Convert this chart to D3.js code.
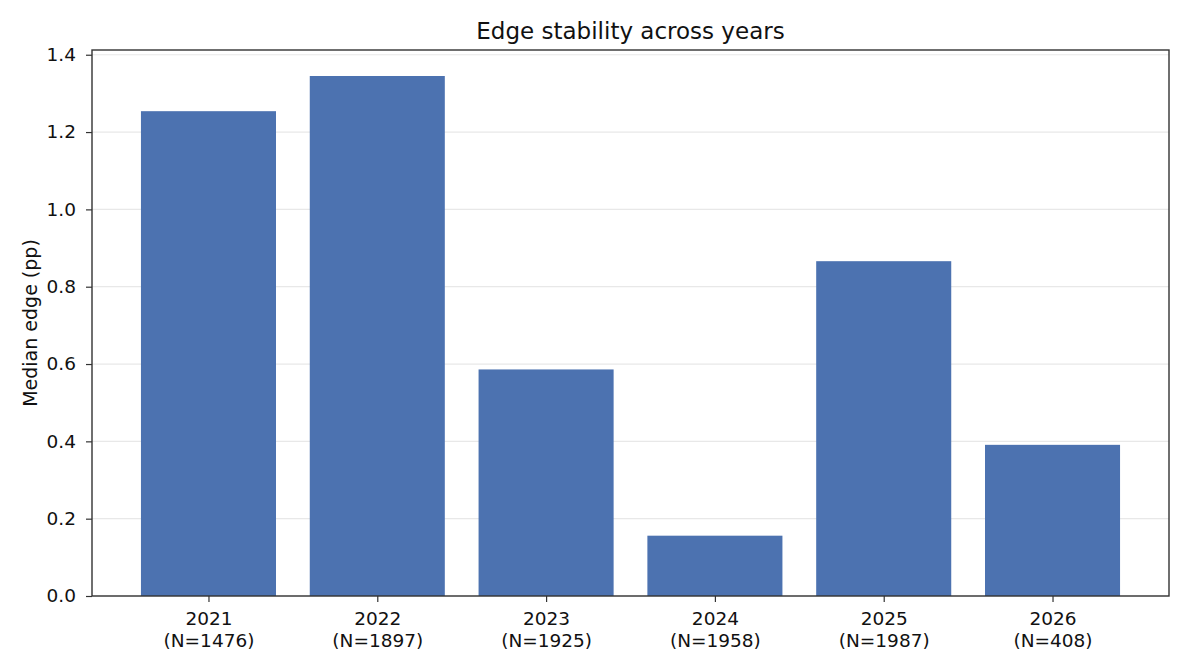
<!DOCTYPE html>
<html>
<head>
<meta charset="utf-8">
<script src="https://cdn.jsdelivr.net/npm/d3@7"></script>
<style>
  body { margin: 0; background: #fff; }
  svg { font-family: "DejaVu Sans", sans-serif; }
</style>
</head>
<body>
<div id="chart"></div>
<script>
const years = ["2021", "2022", "2023", "2024", "2025", "2026"]
const counts = [1476, 1897, 1925, 1958, 1987, 408]
const medianEdge = [1.254, 1.345, 0.586, 0.156, 0.866, 0.391]
const yTicks = [0, 0.2, 0.4, 0.6, 0.8, 1.0, 1.2, 1.4]

const width = 1190
const height = 672
const margin = { top: 50, right: 21, bottom: 76, left: 92 } // plot frame edges

const x0 = margin.left, x1 = width - margin.right
const y0 = height - margin.bottom, y1 = margin.top

// matplotlib-like: bar width 0.8, 5% margins
const n = years.length
const pad = 0.05 * (n - 1 + 0.8)
const x = d3.scaleLinear()
  .domain([-0.4 - pad, n - 1 + 0.4 + pad])
  .range([x0, x1])
const y = d3.scaleLinear()
  .domain([0, d3.max(medianEdge) * 1.05])
  .range([y0, y1])

const svg = d3.select("#chart").append("svg")
  .attr("width", width)
  .attr("height", height)
  .attr("viewBox", [0, 0, width, height])

// grid
svg.append("g")
  .selectAll("line")
  .data(yTicks)
  .join("line")
  .attr("x1", x0).attr("x2", x1)
  .attr("y1", d => y(d)).attr("y2", d => y(d))
  .attr("stroke", "#e8e8e8")
  .attr("stroke-width", 1.2)

// bars
svg.append("g")
  .attr("fill", "#4c72b0")
  .selectAll("rect")
  .data(medianEdge)
  .join("rect")
  .attr("x", (d, i) => x(i - 0.4))
  .attr("width", (d, i) => x(i + 0.4) - x(i - 0.4))
  .attr("y", d => y(d))
  .attr("height", d => y(0) - y(d))

// y axis
const yAxis = d3.axisLeft(y).tickValues(yTicks).tickFormat(d3.format(".1f")).tickSize(6).tickSizeOuter(0).tickPadding(10)
svg.append("g")
  .attr("transform", `translate(${x0},0)`)
  .call(yAxis)
  .call(g => g.select(".domain").remove())
  .call(g => g.selectAll(".tick line").attr("stroke", "#333").attr("stroke-width", 1.2))
  .call(g => g.selectAll(".tick text").attr("fill", "#111").style("font-size", "18.5px").style("font-family", "DejaVu Sans"))

// x axis
const xAxis = d3.axisBottom(x).tickValues(d3.range(n)).tickFormat("").tickSize(6).tickSizeOuter(0)
const gx = svg.append("g")
  .attr("transform", `translate(0,${y0})`)
  .call(xAxis)
  .call(g => g.select(".domain").remove())
  .call(g => g.selectAll(".tick line").attr("stroke", "#333").attr("stroke-width", 1.2))
gx.selectAll(".tick")
  .append("text")
  .attr("fill", "#111")
  .attr("text-anchor", "middle")
  .style("font-size", "18.5px")
  .style("font-family", "DejaVu Sans")
  .each(function (d, i) {
    const t = d3.select(this)
    t.append("tspan").attr("x", 0).attr("y", 29).text(years[i])
    t.append("tspan").attr("x", 0).attr("y", 51).text(`(N=${counts[i]})`)
  })

// frame
svg.append("rect")
  .attr("x", x0).attr("y", y1)
  .attr("width", x1 - x0).attr("height", y0 - y1)
  .attr("fill", "none")
  .attr("stroke", "#333")
  .attr("stroke-width", 1.4)

// title
svg.append("text")
  .attr("x", (x0 + x1) / 2)
  .attr("y", 38.5)
  .attr("text-anchor", "middle")
  .attr("fill", "#111")
  .style("font-size", "23px")
  .text("Edge stability across years")

// y label
svg.append("text")
  .attr("transform", `translate(36.5,${(y0 + y1) / 2}) rotate(-90)`)
  .attr("text-anchor", "middle")
  .attr("fill", "#111")
  .style("font-size", "19px")
  .text("Median edge (pp)")
</script>
</body>
</html>
